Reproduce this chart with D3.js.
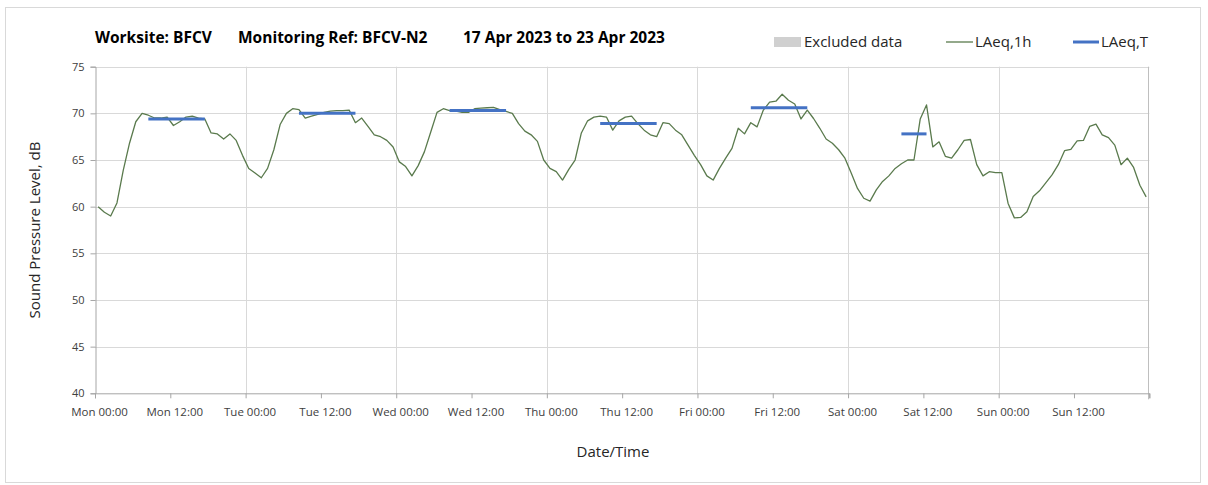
<!DOCTYPE html>
<html>
<head>
<meta charset="utf-8">
<script src="https://cdn.jsdelivr.net/npm/d3@7"></script>
<style>
  html, body { margin: 0; padding: 0; background: #fff; }
  svg { display: block; }
  text { font-family: "Open Sans", "Noto Sans", sans-serif; }
</style>
</head>
<body>
<svg id="chart" width="1208" height="485"></svg>
<script>
// ---------- DATA ----------
const startDate = "2023-04-17T00:00:00Z";
const endDate = "2023-04-24T00:00:00Z";

// LAeq,1h hourly values, Mon 00:00 .. Sun 23:00
const laeq1h = [
  60.0, 59.4, 59.0, 60.4, 63.9, 66.8, 69.1, 70.0, 69.8, 69.5, 69.5, 69.6, 68.7, 69.1, 69.6, 69.7, 69.5, 69.4, 67.9, 67.8, 67.25, 67.8, 67.1, 65.5,
  64.1, 63.6, 63.1, 64.1, 66.1, 68.8, 70.0, 70.5, 70.4, 69.5, 69.7, 69.9, 70.1, 70.25, 70.3, 70.3, 70.35, 69.0, 69.5, 68.6, 67.7, 67.5, 67.1, 66.4,
  64.8, 64.3, 63.3, 64.4, 65.9, 68.0, 70.1, 70.5, 70.3, 70.25, 70.1, 70.1, 70.5, 70.55, 70.6, 70.65, 70.4, 70.2, 70.0, 68.9, 68.1, 67.7, 67.0, 65.0,
  64.1, 63.75, 62.85, 64.0, 65.0, 67.9, 69.2, 69.6, 69.7, 69.6, 68.2, 69.2, 69.6, 69.7, 68.9, 68.2, 67.7, 67.5, 69.0, 68.9, 68.2, 67.7, 66.6, 65.5,
  64.5, 63.3, 62.85, 64.1, 65.2, 66.25, 68.4, 67.8, 69.0, 68.55, 70.35, 71.2, 71.3, 72.05, 71.4, 71.0, 69.4, 70.35, 69.45, 68.4, 67.25, 66.8, 66.1, 65.2,
  63.6, 61.95, 60.9, 60.6, 61.8, 62.7, 63.3, 64.1, 64.6, 65.0, 65.0, 69.4, 70.9, 66.4, 66.95, 65.4, 65.2, 66.1, 67.1, 67.2, 64.5, 63.3, 63.75, 63.65,
  63.65, 60.35, 58.8, 58.85, 59.45, 61.1, 61.7, 62.55, 63.4, 64.5, 66.0, 66.15, 67.05, 67.1, 68.6, 68.85, 67.7, 67.4, 66.6, 64.5, 65.2, 64.2, 62.3, 61.05
];

// LAeq,T periods (day index from Monday, first and last hour of period)
const laeqTDay   = [0, 1, 2, 3, 4, 5];
const laeqTFrom  = [8, 8, 8, 8, 8, 8];
const laeqTTo    = [17, 17, 17, 17, 17, 12];
const laeqTValue = [69.4, 70.0, 70.3, 68.9, 70.6, 67.8];

const xTickLabels = ["Mon 00:00", "Mon 12:00", "Tue 00:00", "Tue 12:00", "Wed 00:00", "Wed 12:00",
  "Thu 00:00", "Thu 12:00", "Fri 00:00", "Fri 12:00", "Sat 00:00", "Sat 12:00", "Sun 00:00", "Sun 12:00"];
const yTicks = [40, 45, 50, 55, 60, 65, 70, 75];

const titleParts = ["Worksite: BFCV", "Monitoring Ref: BFCV-N2", "17 Apr 2023 to 23 Apr 2023"];
const legendLabels = ["Excluded data", "LAeq,1h", "LAeq,T"];

// ---------- LAYOUT ----------
const W = 1208, H = 485;
const plot = { left: 95, right: 1149.3, top: 66.7, bottom: 393.3 };
const HOUR = 3600 * 1000;
const t0 = new Date(startDate), t1 = new Date(endDate);

const svg = d3.select("#chart");

// outer frame
svg.append("rect").attr("x", 5.5).attr("y", 7.5).attr("width", 1195).attr("height", 475)
  .attr("fill", "#fff").attr("stroke", "#d9d9d9").attr("stroke-width", 1);

const x = d3.scaleTime().domain([t0, t1]).range([plot.left, plot.right]);
const y = d3.scaleLinear().domain([40, 75]).range([plot.bottom, plot.top]);

// gridlines horizontal
svg.append("g").selectAll("line").data(yTicks.filter(v => v > 40)).join("line")
  .attr("x1", plot.left).attr("x2", plot.right)
  .attr("y1", d => Math.round(y(d)) + 0.5).attr("y2", d => Math.round(y(d)) + 0.5)
  .attr("stroke", "#d9d9d9").attr("stroke-width", 1);

// vertical gridlines at each day boundary
const dayTicks = d3.utcDay.range(d3.utcDay.offset(t0, 1), t1);
svg.append("g").selectAll("line").data(dayTicks).join("line")
  .attr("x1", d => Math.round(x(d)) + 0.5).attr("x2", d => Math.round(x(d)) + 0.5)
  .attr("y1", plot.top).attr("y2", plot.bottom)
  .attr("stroke", "#d9d9d9").attr("stroke-width", 1);

// right edge
svg.append("line")
  .attr("x1", Math.round(x(t1)) - 0.5).attr("x2", Math.round(x(t1)) - 0.5)
  .attr("y1", plot.top).attr("y2", plot.bottom + 6)
  .attr("stroke", "#bfbfbf").attr("stroke-width", 1);

// y axis
const yAxis = d3.axisLeft(y).tickValues(yTicks).tickSize(5).tickPadding(6).tickFormat(d3.format("d"));
const gy = svg.append("g").attr("transform", `translate(${plot.left + 0.5},0)`).call(yAxis);
gy.select(".domain").attr("stroke", "#a6a6a6");
gy.selectAll(".tick line").attr("stroke", "#a6a6a6");
gy.selectAll(".tick text").attr("fill", "#404040").style("font-size", "11px")
  .style("font-family", "'Open Sans', sans-serif");

// x axis
const xTickVals = d3.utcHour.every(12).range(t0, d3.utcHour.offset(t1, 1));
const xAxis = d3.axisBottom(x).tickValues(xTickVals).tickSize(5).tickPadding(10)
  .tickFormat((d, i) => xTickLabels[i] || "");
const gx = svg.append("g").attr("transform", `translate(0,${plot.bottom})`).call(xAxis);
gx.select(".domain").attr("stroke", "#a6a6a6");
gx.selectAll(".tick line").attr("stroke", "#a6a6a6");
gx.selectAll(".tick text").attr("fill", "#404040").attr("dx", 4).style("font-size", "11.5px")
  .style("font-family", "'Open Sans', sans-serif");

// LAeq,1h line (hourly values plotted at mid-hour)
const pts = laeq1h.map((v, i) => ({ t: new Date(t0.getTime() + (i + 0.5) * HOUR), v }));
const line = d3.line().x(d => x(d.t)).y(d => y(d.v));
svg.append("path").datum(pts).attr("d", line)
  .attr("fill", "none").attr("stroke", "#5a7a4d").attr("stroke-width", 1.3)
  .attr("stroke-linejoin", "round");

// LAeq,T segments
svg.append("g").selectAll("line").data(laeqTValue.map((v, i) => ({
    a: new Date(t0.getTime() + (laeqTDay[i] * 24 + laeqTFrom[i] + 0.5) * HOUR),
    b: new Date(t0.getTime() + (laeqTDay[i] * 24 + laeqTTo[i] + 0.5) * HOUR),
    v }))).join("line")
  .attr("x1", d => x(d.a)).attr("x2", d => x(d.b))
  .attr("y1", d => y(d.v)).attr("y2", d => y(d.v))
  .attr("stroke", "#4472c4").attr("stroke-width", 3);

// title
const titleX = [95, 238, 463];
svg.append("g").selectAll("text").data(titleParts).join("text")
  .attr("x", (d, i) => titleX[i]).attr("y", 43)
  .attr("fill", "#000").style("font-weight", "bold").style("font-size", "15.5px")
  .text(d => d);

// legend
const lg = svg.append("g").style("font-size", "15px");
lg.append("rect").attr("x", 774).attr("y", 37).attr("width", 27).attr("height", 10).attr("fill", "#d0d0d0");
lg.append("text").attr("x", 804).attr("y", 47).attr("fill", "#262626").text(legendLabels[0]);
lg.append("line").attr("x1", 946).attr("x2", 973).attr("y1", 42).attr("y2", 42)
  .attr("stroke", "#5a7a4d").attr("stroke-width", 1.3);
lg.append("text").attr("x", 975).attr("y", 47).attr("fill", "#262626").text(legendLabels[1]);
lg.append("line").attr("x1", 1073).attr("x2", 1099).attr("y1", 42).attr("y2", 42)
  .attr("stroke", "#4472c4").attr("stroke-width", 3);
lg.append("text").attr("x", 1101).attr("y", 47).attr("fill", "#262626").text(legendLabels[2]);

// axis titles
svg.append("text").attr("transform", `translate(40,${(plot.top + plot.bottom) / 2}) rotate(-90)`)
  .attr("text-anchor", "middle").attr("fill", "#262626").style("font-size", "15px")
  .text("Sound Pressure Level, dB");
svg.append("text").attr("x", 613).attr("y", 457).attr("text-anchor", "middle")
  .attr("fill", "#262626").style("font-size", "15px").text("Date/Time");
</script>
</body>
</html>
